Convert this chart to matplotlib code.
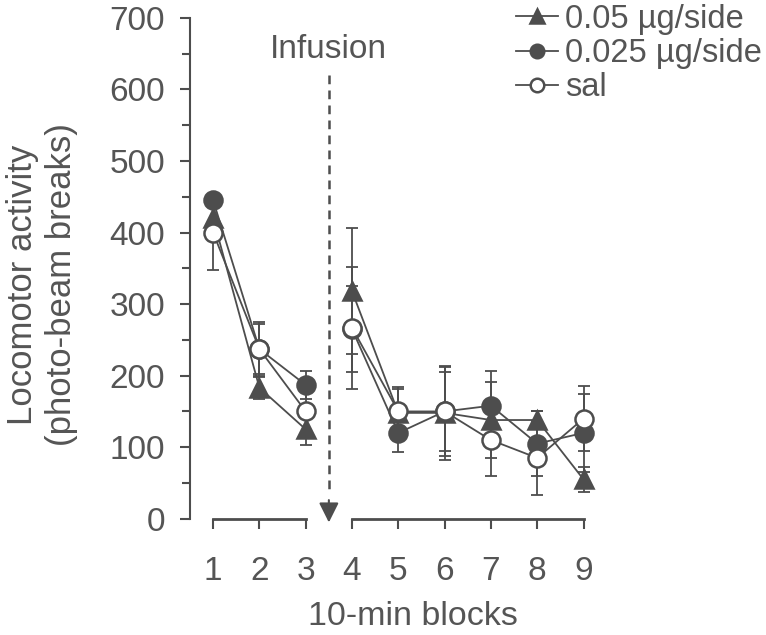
import numpy as np
import matplotlib.pyplot as plt
from matplotlib.ticker import MultipleLocator

plt.rcParams['font.family'] = ['Liberation Sans', 'DejaVu Sans']

blocks = [1, 2, 3, 4, 5, 6, 7, 8, 9]
tick_labels = ['1', '2', '3', '4', '5', '6', '7', '8', '9']

hi_dose = [420, 183, 125, 318, 148, 148, 138, 138, 55]
hi_sem = [30, 15, 22, 88, 33, 66, 53, 13, 18]
lo_dose = [445, 237, 187, 265, 120, 150, 158, 105, 120]
lo_sem = [5, 35, 20, 60, 27, 55, 48, 45, 55]
sal = [400, 237, 150, 267, 150, 150, 110, 85, 140]
sal_sem = [53, 38, 30, 85, 34, 62, 50, 52, 45]

labels = ['0.05 µg/side', '0.025 µg/side', 'sal']

col = '#4d4d4d'
txt = '#555555'

fig = plt.figure(figsize=(7.66, 6.35), dpi=100)
ax = fig.add_axes([0.248, 0.183, 0.544, 0.789])

x = np.array(blocks)
pre = x <= 3
post = x >= 4

series = [
    (hi_dose, hi_sem, '^', col, labels[0]),
    (lo_dose, lo_sem, 'o', col, labels[1]),
    (sal, sal_sem, 'o', 'white', labels[2]),
]

handles = []
for y, e, m, fc, lab in series:
    y = np.array(y)
    e = np.array(e)
    for mask in (pre, post):
        ax.errorbar(x[mask], y[mask], yerr=e[mask], fmt='none', ecolor=col,
                    elinewidth=1.3, capsize=4, capthick=1.3, zorder=2)
    for mask in (pre, post):
        h, = ax.plot(x[mask], y[mask], color=col, lw=1.3, marker=m,
                     markersize=13, markerfacecolor=fc, markeredgecolor=col,
                     markeredgewidth=1.8, zorder=3)
    handles.append(h)

ax.set_xlim(0.5, 9.5)
ax.set_ylim(0, 700)
ax.set_yticks(range(0, 701, 100))
ax.yaxis.set_minor_locator(MultipleLocator(50))
ax.set_xticks(blocks)
ax.set_xticklabels(tick_labels)

for s in ['top', 'right', 'bottom']:
    ax.spines[s].set_visible(False)
ax.spines['left'].set_color(col)
ax.spines['left'].set_linewidth(1.5)
ax.tick_params(axis='both', colors=col, labelcolor=txt, labelsize=24,
               direction='out', length=7, width=1.5)
ax.tick_params(axis='y', which='minor', colors=col, direction='out',
               length=6, width=1.5)
ax.tick_params(axis='x', pad=20)
ax.tick_params(axis='y', pad=11)

# broken x axis
ax.plot([1, 3], [0, 0], color=col, lw=2, clip_on=False, zorder=1)
ax.plot([4, 9], [0, 0], color=col, lw=2, clip_on=False, zorder=1)

# infusion arrow
ax.plot([3.5, 3.5], [620, 40], color=col, lw=1.8, ls=(0, (3.5, 2.5)), clip_on=False)
ax.annotate('', xy=(3.5, -9), xytext=(3.5, 30),
            arrowprops=dict(arrowstyle='-|>', color=col, lw=1.5,
                            mutation_scale=30), annotation_clip=False)
ax.text(3.5, 655, 'Infusion', ha='center', va='center', fontsize=24, color=txt)

ax.set_ylabel('Locomotor activity\n(photo-beam breaks)', fontsize=25,
              color=txt, linespacing=1.25, ha='center', va='center')
ax.yaxis.set_label_coords(-0.355, 0.467)
ax.set_xlabel('10-min blocks', fontsize=24.5, color=txt, va='center')
ax.xaxis.set_label_coords(0.535, -0.195)

leg = fig.legend(handles, labels, loc='upper right', bbox_to_anchor=(1.02, 1.025),
                 frameon=False, fontsize=23.5, handlelength=1.3, handletextpad=0.2,
                 labelspacing=0.1, borderaxespad=0.2, markerscale=0.75)
for t in leg.get_texts():
    t.set_color(txt)

fig.savefig('out.png', dpi=100)
